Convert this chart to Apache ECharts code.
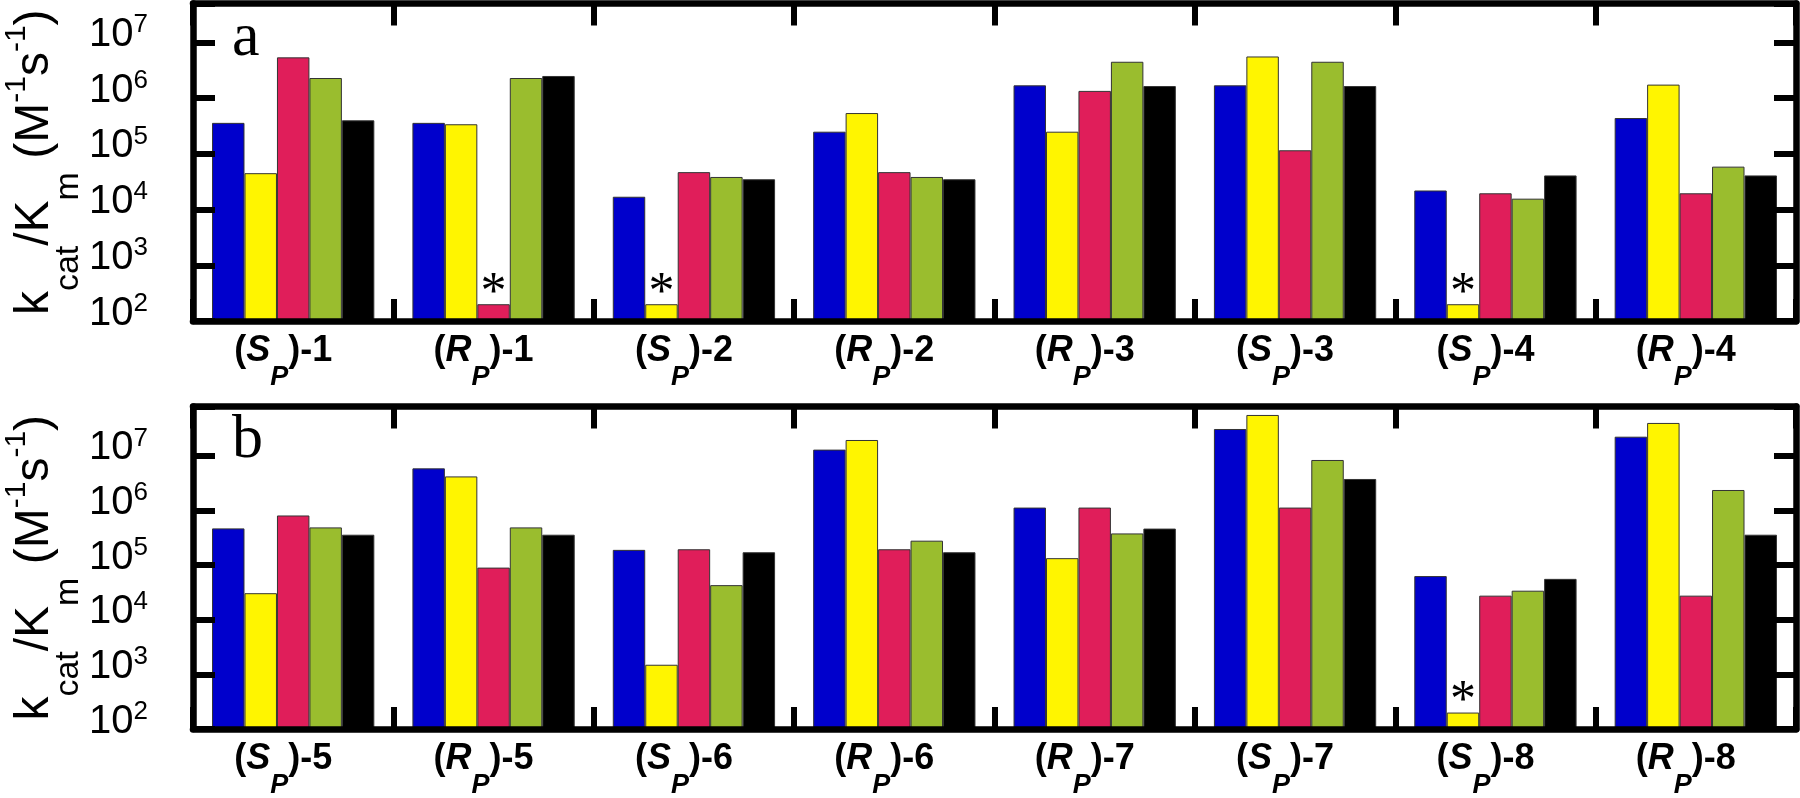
<!DOCTYPE html>
<html>
<head>
<meta charset="utf-8">
<script src="https://cdn.jsdelivr.net/npm/echarts@6/dist/echarts.min.js"></script>
<style>
  html, body { margin: 0; padding: 0; background: #fff; }
  #chart { width: 1800px; height: 798px; }
</style>
</head>
<body>
<div id="chart"></div>
<script>
// categories for the two panels
const categoriesA = ['(S_P)-1', '(R_P)-1', '(S_P)-2', '(R_P)-2', '(R_P)-3', '(S_P)-3', '(S_P)-4', '(R_P)-4'];
const categoriesB = ['(S_P)-5', '(R_P)-5', '(S_P)-6', '(R_P)-6', '(R_P)-7', '(S_P)-7', '(S_P)-8', '(R_P)-8'];

// kcat/Km values, M^-1 s^-1
const blueA   = [3.6e5, 3.6e5, 1.7e4, 2.5e5, 1.7e6, 1.7e6, 2.2e4, 4.4e5];
const yellowA = [4.5e4, 3.4e5, 200, 5.4e5, 2.5e5, 5.6e6, 200, 1.75e6];
const redA    = [5.4e6, 200, 4.7e4, 4.7e4, 1.35e6, 1.16e5, 1.96e4, 1.96e4];
const greenA  = [2.3e6, 2.3e6, 3.85e4, 3.85e4, 4.5e6, 4.5e6, 1.57e4, 5.9e4];
const blackA  = [4.0e5, 2.5e6, 3.5e4, 3.5e4, 1.65e6, 1.65e6, 4.1e4, 4.1e4];

const blueB   = [4.7e5, 5.9e6, 1.9e5, 1.3e7, 1.13e6, 3.1e7, 6.3e4, 2.24e7];
const yellowB = [3.06e4, 4.2e6, 1.5e3, 1.95e7, 1.34e5, 5.6e7, 200, 4.0e7];
const redB    = [8.1e5, 9.0e4, 1.95e5, 1.95e5, 1.13e6, 1.13e6, 2.76e4, 2.76e4];
const greenB  = [4.9e5, 4.9e5, 4.3e4, 2.8e5, 3.8e5, 8.4e6, 3.4e4, 2.37e6];
const blackB  = [3.6e5, 3.6e5, 1.72e5, 1.72e5, 4.66e5, 3.77e6, 5.6e4, 3.6e5];

// bars flagged with an asterisk: [category index, series index]
const starsA = [[1, 2], [2, 1], [6, 1]];
const starsB = [[6, 1]];

const colors = ['#0000CC', '#FFF500', '#E01E5A', '#9ABD2E', '#000000'];

const chart = echarts.init(document.getElementById('chart'));

const catLabel = {
  margin: 12,
  interval: 0,
  fontFamily: 'Liberation Sans',
  fontWeight: 'bold',
  fontSize: 36,
  color: '#000',
  padding: [0, 20, 0, 0],
  formatter: v => {
    const m = v.match(/^\((\w)_P\)-(\d+)$/);
    return '{p|(}{it|' + m[1] + '}{sub|P}{p|)-' + m[2] + '}';
  },
  rich: {
    p:   { fontSize: 36, fontWeight: 'bold', lineHeight: 38, verticalAlign: 'top' },
    it:  { fontSize: 36, fontWeight: 'bold', fontStyle: 'italic', lineHeight: 38, verticalAlign: 'top' },
    sub: { fontSize: 27, fontWeight: 'bold', fontStyle: 'italic', lineHeight: 27, verticalAlign: 'top', padding: [31, 0, 0, 0] }
  }
};

const yLabel = {
  margin: 45,
  fontFamily: 'Liberation Sans',
  color: '#000',
  padding: [0, 0, 21, 0],
  formatter: v => {
    const e = Math.log10(v);
    const r = Math.round(e);
    if (Math.abs(e - r) > 1e-6) return '';
    return '{b|10}{sup|' + r + '}';
  },
  rich: {
    b:   { fontSize: 40, lineHeight: 40, verticalAlign: 'top', padding: [3, 0, 0, 0] },
    sup: { fontSize: 26, lineHeight: 26, verticalAlign: 'top' }
  }
};

const yName = '{m|k}{sub|cat}{m|/K}{sub|m}{m| (M}{sup|-1}{m|s}{sup|-1}{m|)}';
const yNameStyle = {
  fontFamily: 'Liberation Sans',
  color: '#000',
  rich: {
    m:   { fontSize: 48, lineHeight: 48, verticalAlign: 'top', padding: [9, 0, 0, 0] },
    sub: { fontSize: 34, lineHeight: 34, verticalAlign: 'top', padding: [50, 0, 0, 0] },
    sup: { fontSize: 30, lineHeight: 30, verticalAlign: 'top' }
  }
};

const lineStyle = { color: '#000', width: 6.5 };
const tickStyle = { show: true, inside: true, length: 22, lineStyle: { color: '#000', width: 6 } };

function xAxes(cats, gi) {
  return [
    { type: 'category', gridIndex: gi, data: cats, position: 'bottom', z: 10,
      axisLine: { lineStyle }, axisTick: tickStyle, axisLabel: catLabel },
    { type: 'category', gridIndex: gi, data: cats, position: 'top', z: 10,
      axisLine: { lineStyle }, axisTick: tickStyle, axisLabel: { show: false } }
  ];
}

function yAxes(max, gi) {
  return [
    { type: 'log', logBase: 10, gridIndex: gi, min: 100, max, position: 'left', z: 10,
      splitNumber: 6, splitLine: { show: false },
      axisLine: { show: true, lineStyle }, axisTick: tickStyle, axisLabel: yLabel,
      name: yName, nameLocation: 'middle', nameRotate: 90, nameGap: 143,
      nameMoveOverlap: false, nameTextStyle: yNameStyle },
    { type: 'log', logBase: 10, gridIndex: gi, min: 100, max, position: 'right', z: 10,
      splitNumber: 6, splitLine: { show: false },
      axisLine: { show: true, lineStyle }, axisTick: tickStyle, axisLabel: { show: false } }
  ];
}

function panelSeries(list, stars, xi, yi) {
  return list.map((vals, si) => ({
    type: 'bar',
    xAxisIndex: xi,
    yAxisIndex: yi,
    barGap: '0%',
    barCategoryGap: '19%',
    itemStyle: { color: colors[si], borderColor: '#333', borderWidth: 1 },
    data: vals.map((v, ci) => stars.some(s => s[0] === ci && s[1] === si)
      ? { value: v, label: { show: true, position: 'top', distance: -16, formatter: '*',
          fontFamily: 'Liberation Serif', fontSize: 52, lineHeight: 52, color: '#000' } }
      : v)
  }));
}

const option = {
  animation: false,
  backgroundColor: '#fff',
  grid: [
    { left: 193, top: 3.5, width: 1603, height: 317.5, outerBoundsMode: 'none', containLabel: false },
    { left: 193, top: 406.5, width: 1603, height: 322.5, outerBoundsMode: 'none', containLabel: false }
  ],
  xAxis: [...xAxes(categoriesA, 0), ...xAxes(categoriesB, 1)],
  yAxis: [...yAxes(5e7, 0), ...yAxes(8e7, 1)],
  series: [
    ...panelSeries([blueA, yellowA, redA, greenA, blackA], starsA, 0, 0),
    ...panelSeries([blueB, yellowB, redB, greenB, blackB], starsB, 2, 2)
  ],
  graphic: [
    { type: 'text', left: 232, top: 8, z: 20,
      style: { text: 'a', fontFamily: 'Liberation Serif', fontSize: 62, fill: '#000' } },
    { type: 'text', left: 232, top: 410, z: 20,
      style: { text: 'b', fontFamily: 'Liberation Serif', fontSize: 62, fill: '#000' } }
  ]
};

chart.setOption(option);
</script>
</body>
</html>
